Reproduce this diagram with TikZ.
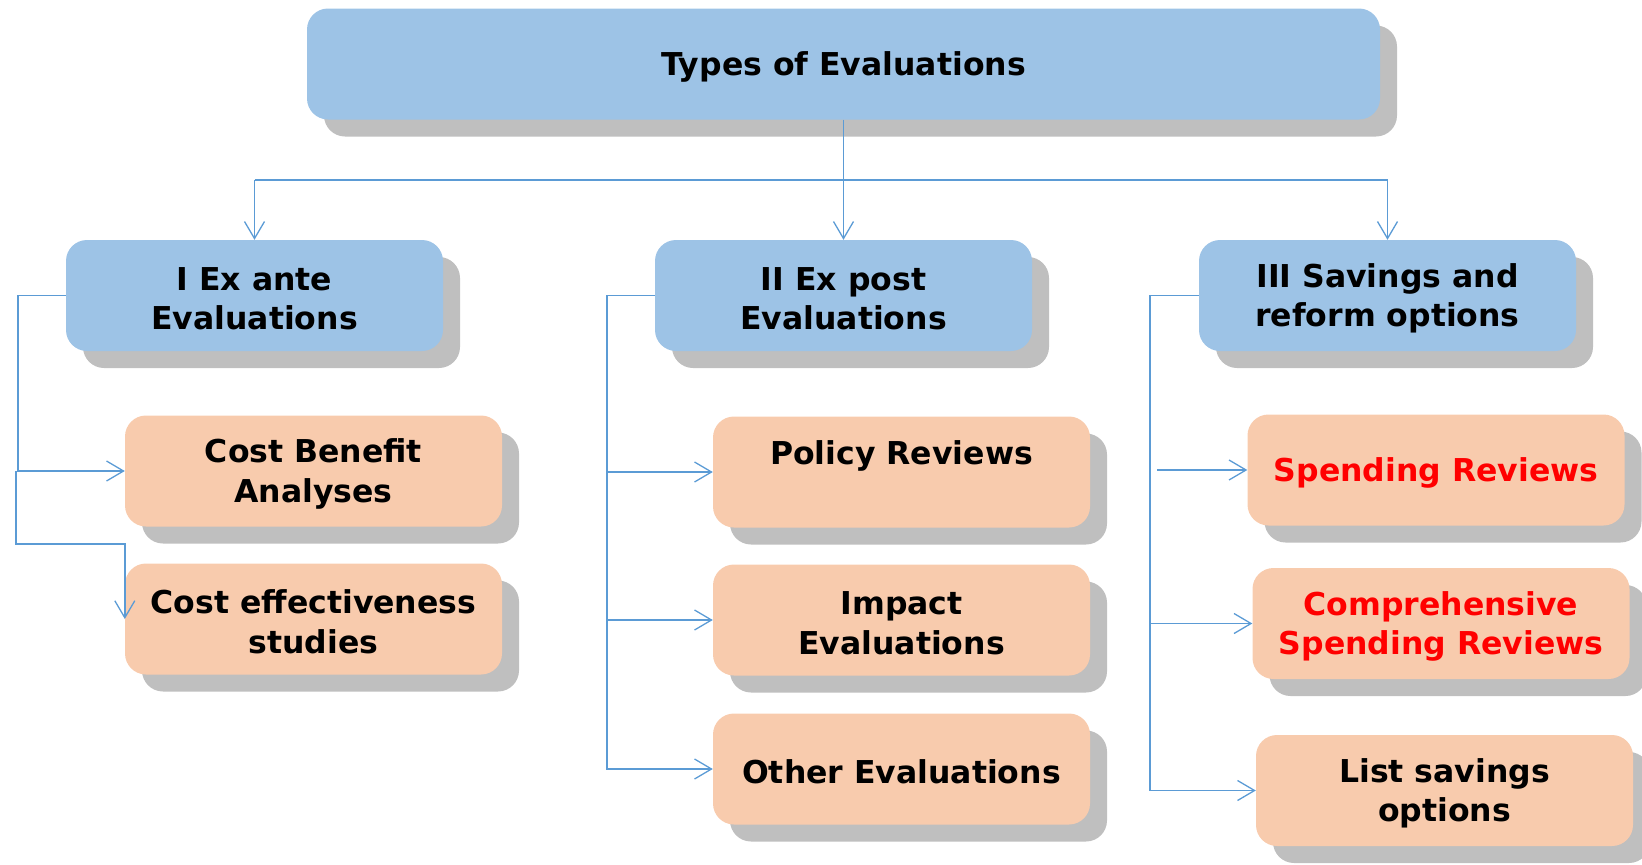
\documentclass[tikz,border=0pt]{standalone}
\usepackage{fontspec}
\setmainfont{DejaVu Sans}
\usetikzlibrary{arrows.meta,shadows}
\definecolor{cBlue}{HTML}{9DC3E6}
\definecolor{cOrange}{HTML}{F8CBAD}
\definecolor{cShadow}{HTML}{BFBFBF}
\definecolor{cLink}{HTML}{5B9BD5}
\definecolor{cRed}{HTML}{FF0000}
\newcommand{\mytopstrut}{\rule{0pt}{29.5pt}}
\begin{document}
\begin{tikzpicture}[x=1pt,y=-1pt,
  box/.style={rounded corners=21pt, minimum width=377pt, minimum height=111pt,
    align=center, inner sep=0pt,
    font=\fontsize{31.5}{39.5}\selectfont\bfseries,
    drop shadow={shadow xshift=17pt,shadow yshift=-17pt,fill=cShadow,opacity=1}},
  bluebox/.style={box, fill=cBlue},
  orangebox/.style={box, fill=cOrange},
  redtxt/.style={text=cRed},
  link/.style={draw=cLink, line width=1.4pt},
  arrowlink/.style={link, -{Straight Barb[length=17pt,width=20pt,line width=1.3pt]}}
]
\useasboundingbox (0,0) rectangle (1642,865);

% top
\node[bluebox, minimum width=1073pt] (top) at (843.5,64) {\mytopstrut Types of Evaluations};

% level 1
\node[bluebox] (i)   at (254.5,295.5)  {\mytopstrut I Ex ante\\Evaluations};
\node[bluebox] (ii)  at (843.5,295.5)  {\mytopstrut II Ex post\\Evaluations};
\node[bluebox] (iii) at (1387.5,295.5) {\mytopstrut III Savings and\\reform options};

% left column
\node[orangebox] (cb) at (313.5,471) {\mytopstrut Cost Benefit\\Analyses};
\node[orangebox] (ce) at (313.5,619) {\mytopstrut Cost effectiveness\\studies};

% middle column
\node[orangebox] (pr) at (901.5,472) {Policy Reviews\\\mbox{}};
\node[orangebox] (ie) at (901.5,620) {\mytopstrut Impact\\Evaluations};
\node[orangebox] (oe) at (901.5,769) {\mytopstrut Other Evaluations};

% right column
\node[orangebox, redtxt] (sr) at (1436,470)   {\mytopstrut Spending Reviews};
\node[orangebox, redtxt] (cs) at (1441,623.5) {\mytopstrut Comprehensive\\Spending Reviews};
\node[orangebox] (ls) at (1444.5,790.5) {\mytopstrut List savings\\options};

% coordinates for connector rails
\coordinate (hy) at (0,180);
\coordinate (lx) at (16,0);
\coordinate (ly) at (0,544);
\coordinate (mx) at (607,0);
\coordinate (rx) at (1150,0);
\coordinate (rs) at (1157,0);

% top connectors
\draw[arrowlink] (top.south) -- (ii.north);
\draw[link] (i.north |- hy) -- (iii.north |- hy);
\draw[arrowlink] (i.north |- hy) -- (i.north);
\draw[arrowlink] (iii.north |- hy) -- (iii.north);

% left connectors
\draw[arrowlink] (i.west) -- ++(-48,0) |- (cb.west);
\draw[arrowlink] (lx |- cb.west) -- (lx |- ly) -| (ce.west);

% middle connectors
\draw[arrowlink] (ii.west) -- (mx |- ii.west) |- (oe.west);
\draw[arrowlink] (mx |- pr.west) -- (pr.west);
\draw[arrowlink] (mx |- ie.west) -- (ie.west);

% right connectors
\draw[arrowlink] (iii.west) -- (rx |- iii.west) |- (ls.west);
\draw[arrowlink] (rs |- sr.west) -- (sr.west);
\draw[arrowlink] (rx |- cs.west) -- (cs.west);
\end{tikzpicture}
\end{document}
